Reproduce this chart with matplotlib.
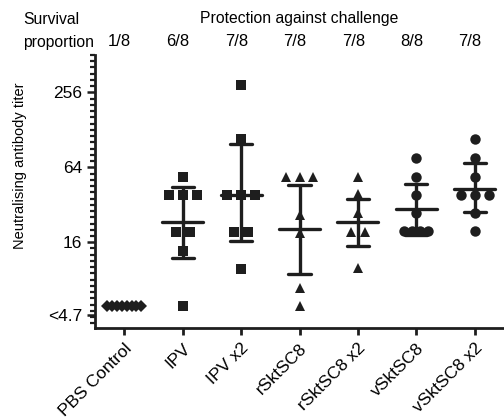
import numpy as np
import matplotlib
matplotlib.use("Agg")
import matplotlib.pyplot as plt
import matplotlib.transforms as mtransforms
from collections import Counter

plt.rcParams['font.family'] = ['Liberation Sans', 'DejaVu Sans']

# ---------------- data ----------------
groups = ["PBS Control", "IPV", "IPV x2", "rSktSC8", "rSktSC8 x2", "vSktSC8", "vSktSC8 x2"]
survival = ["1/8", "6/8", "7/8", "7/8", "7/8", "8/8", "7/8"]
markers = ["D", "s", "s", "^", "^", "o", "o"]

pbs = [4.9] * 8
ipv = [54, 38, 38, 38, 19.3, 19.3, 13.6, 4.9]
ipv_x2 = [296, 108, 38, 38, 38, 19.3, 19.3, 9.7]
rsktsc8 = [53.5, 53.5, 53.5, 26.4, 19.0, 6.9, 4.9]
rsktsc8_x2 = [53.5, 39.4, 27.3, 19.3, 19.3, 9.85]
vsktsc8 = [76, 54, 38, 27.3, 19.6, 19.6, 19.6, 19.6]
vsktsc8_x2 = [108, 76.6, 54, 38, 38, 38, 27.3, 19.6]
values = [pbs, ipv, ipv_x2, rsktsc8, rsktsc8_x2, vsktsc8, vsktsc8_x2]

# geometric mean and error bar limits; None = not drawn
gmean = [None, 23.1, 38.1, 20.3, 23.1, 29.4, 43.1]
err_hi = [None, 44.3, 99.0, 45.9, 35.5, 47.2, 69.1]
err_lo = [None, 12.0, 16.3, 8.9, 14.8, 18.4, 28.0]

ytick_vals = [4.15, 16, 64, 256]
ytick_labels = ["<4.7", "16", "64", "256"]

# ---------------- figure ----------------
W, H = 504, 420
fig = plt.figure(figsize=(W / 100, H / 100), dpi=100)
ax = fig.add_axes([95 / W, 92 / H, 409 / W, 273 / H])
ax.set_yscale('log', base=2)
ax.set_ylim(3.27, 512)
ax.set_xlim(-0.5, len(groups) - 0.5)

px_per_unit = 409 / len(groups)

def spread(vals):
    cnt = Counter(vals)
    seen = Counter()
    offs = []
    for v in vals:
        n = cnt[v]
        if n <= 3:
            sp = 14
        elif n == 4:
            sp = 8
        else:
            sp = 34 / (n - 1)
        k = seen[v]
        seen[v] += 1
        offs.append((k - (n - 1) / 2) * sp / px_per_unit)
    return offs

col = "#1e1e1e"
msize = {"D": 6.3, "s": 7, "^": 7, "o": 7.5}
lw = 2.4
for i, (vals, mk) in enumerate(zip(values, markers)):
    offs = spread(vals)
    xs = [i + o for o in offs]
    ax.plot(xs, vals, linestyle='none', marker=mk, ms=msize[mk], color=col,
            markeredgewidth=0, zorder=3)
    if gmean[i] is not None:
        ax.plot([i, i], [err_lo[i], err_hi[i]], color=col, lw=lw, zorder=4,
                solid_capstyle='butt')
        ax.plot([i - 0.35, i + 0.35], [gmean[i], gmean[i]], color=col, lw=lw,
                zorder=4, solid_capstyle='round')
        for e in (err_lo[i], err_hi[i]):
            ax.plot([i - 0.19, i + 0.19], [e, e], color=col, lw=lw, zorder=4,
                    solid_capstyle='round')

# axes styling
for s in ("top", "right"):
    ax.spines[s].set_visible(False)
for s in ("left", "bottom"):
    ax.spines[s].set_linewidth(2)
    ax.spines[s].set_color(col)

ax.set_yticks(ytick_vals)
ax.set_yticklabels(ytick_labels)
minor = 2 ** np.arange(9, 1.7, -1 / 6)
ax.set_yticks(minor, minor=True)
ax.yaxis.set_minor_formatter(matplotlib.ticker.NullFormatter())
ax.tick_params(axis='y', which='major', length=6, width=1.8, labelsize=12.5,
               color=col, pad=3)
ax.tick_params(axis='y', which='minor', length=3.5, width=1.6, color=col)

ax.set_xticks(range(len(groups)))
ax.set_xticklabels(groups, rotation=45, ha='right', va='top',
                   rotation_mode='anchor', fontsize=12.5)
ax.tick_params(axis='x', length=5, width=2, color=col, pad=4)

fig.text(20 / W, 1 - 166 / H, "Neutralising antibody titer", rotation=90,
         ha='center', va='center', fontsize=10.5)

# header
fig.text(23 / W, 1 - 20 / H, "Survival", ha='left', va='center', fontsize=11.3)
fig.text(23 / W, 1 - 42 / H, "proportion", ha='left', va='center', fontsize=11.3)
fig.text(299 / W, 1 - 18 / H, "Protection against challenge", ha='center',
         va='center', fontsize=11.3)
blend = mtransforms.blended_transform_factory(ax.transData, fig.transFigure)
for i, s in enumerate(survival):
    ax.text(i - 0.08, 1 - 42 / H, s, transform=blend,
            ha='center', va='center', fontsize=12)

fig.savefig("out.png", dpi=100)
